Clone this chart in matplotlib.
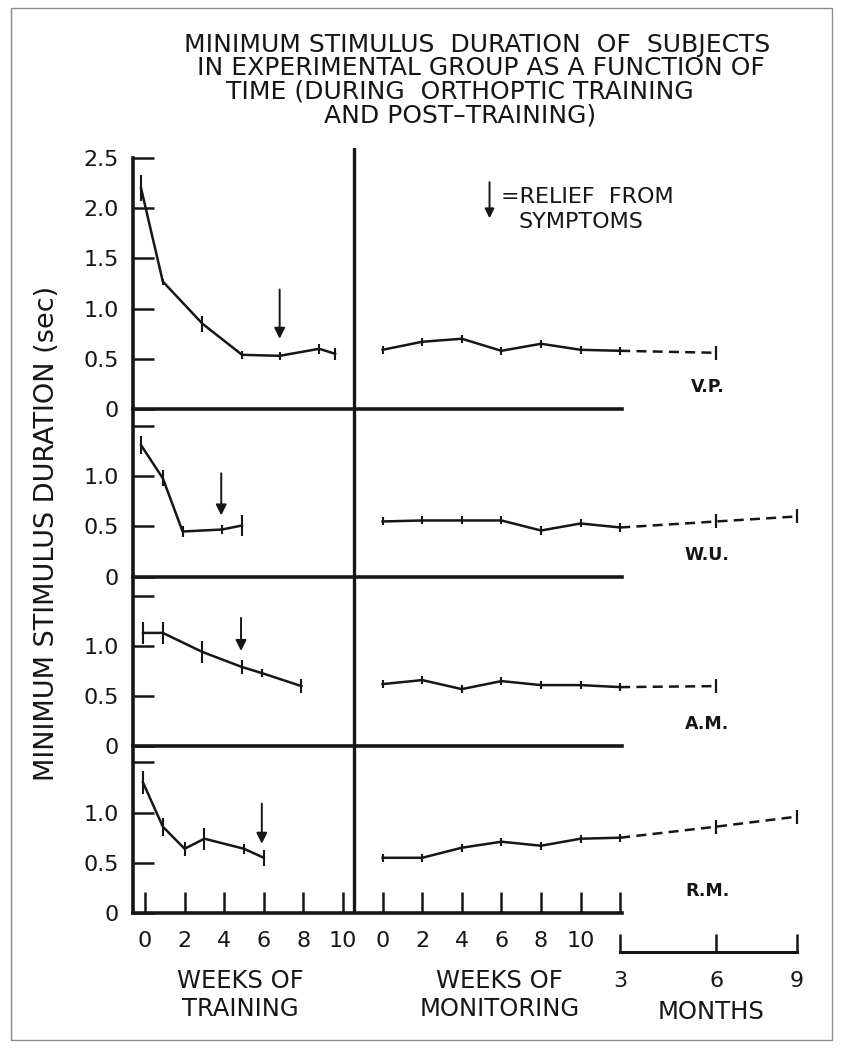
import numpy as np
import matplotlib
matplotlib.use('Agg')
import matplotlib.pyplot as plt
from matplotlib.patches import Rectangle

# ---- data ----
subjects = ['V.P.', 'W.U.', 'A.M.', 'R.M.']

train_weeks = [
    [-0.2, 0.9, 2.9, 4.9, 6.8, 8.8, 9.6],
    [-0.2, 0.9, 1.9, 3.9, 4.9],
    [-0.1, 0.9, 2.9, 4.9, 5.9, 7.9],
    [-0.1, 0.9, 2.0, 3.0, 5.0, 6.0],
]
train_vals = [
    [2.20, 1.27, 0.85, 0.54, 0.53, 0.60, 0.55],
    [1.31, 0.98, 0.45, 0.47, 0.51],
    [1.13, 1.13, 0.94, 0.79, 0.73, 0.60],
    [1.30, 0.86, 0.64, 0.74, 0.64, 0.55],
]
train_err = [
    [0.13, 0.03, 0.08, 0.04, 0.04, 0.05, 0.06],
    [0.09, 0.08, 0.05, 0.04, 0.10],
    [0.11, 0.11, 0.11, 0.07, 0.04, 0.07],
    [0.11, 0.09, 0.07, 0.11, 0.05, 0.08],
]

mon_weeks = [0, 2, 4, 6, 8, 10, 12]
mon_vals = [
    [0.59, 0.67, 0.70, 0.58, 0.65, 0.59, 0.58],
    [0.55, 0.56, 0.56, 0.56, 0.46, 0.53, 0.49],
    [0.62, 0.66, 0.57, 0.65, 0.61, 0.61, 0.59],
    [0.55, 0.55, 0.65, 0.71, 0.67, 0.74, 0.75],
]
mon_err = 0.04

follow_months = [[6], [6, 9], [6], [6, 9]]
follow_vals = [[0.56], [0.55, 0.60], [0.60], [0.86, 0.96]]
follow_err = 0.07

# relief from symptoms: week, arrow tail, arrow head
relief_week = [6.8, 3.85, 4.85, 5.9]
relief_tail = [1.19, 1.03, 1.28, 1.09]
relief_head = [0.70, 0.61, 0.95, 0.69]

ytops = [2.6, 1.67, 1.69, 1.66]

train_ticks = [0, 2, 4, 6, 8, 10]
mon_ticks = [0, 2, 4, 6, 8, 10, 12]
month_ticks = [3, 6, 9]

# ---- layout helpers (pixel geometry of the original page) ----
W, H = 843, 1050
def fx(px):
    return px / W
def fy(py):
    return 1 - py / H

PX_WEEK = 19.8
X_LEFT = (133 - 145) / PX_WEEK
X_RIGHT = (830 - 145) / PX_WEEK
DIVIDER = (354 - 145) / PX_WEEK
MON_OFF = 12.0
def month_pos(m):
    return np.interp(m, [3, 6, 9], [24.0, 28.85, 32.93])

INK = '#161616'

fig = plt.figure(figsize=(8.43, 10.5), dpi=100)
gs = fig.add_gridspec(4, 1, height_ratios=ytops, hspace=0,
                      left=fx(133), right=fx(830), top=fy(148), bottom=fy(913))
axes = [fig.add_subplot(gs[i]) for i in range(4)]

for i, ax in enumerate(axes):
    ax.set_xlim(X_LEFT, X_RIGHT)
    ax.set_ylim(0, ytops[i])
    ax.patch.set_visible(False)
    for s in ['top', 'right']:
        ax.spines[s].set_visible(False)
    for s in ['left', 'bottom']:
        ax.spines[s].set_linewidth(2.6)
        ax.spines[s].set_color(INK)
    ax.spines['bottom'].set_bounds(X_LEFT, MON_OFF + 12.1)
    if i == 0:
        ax.spines['left'].set_bounds(0, 2.5)
        ax.set_yticks([0, 0.5, 1.0, 1.5, 2.0, 2.5])
        ax.set_yticklabels(['0', '0.5', '1.0', '1.5', '2.0', '2.5'])
    else:
        ax.set_yticks([0, 0.5, 1.0, 1.5])
        ax.set_yticklabels(['0', '0.5', '1.0', ''])
    ax.tick_params(axis='y', direction='in', length=15, width=1.8, color=INK,
                   labelsize=16, pad=10, labelcolor=INK)
    ax.axvline(DIVIDER, color=INK, lw=2.4)

    # training
    ax.plot(train_weeks[i], train_vals[i], '-', color=INK, lw=1.8)
    ax.errorbar(train_weeks[i], train_vals[i], yerr=train_err[i], fmt='none',
                ecolor=INK, elinewidth=1.5, capsize=0)

    # monitoring
    mx = [MON_OFF + w for w in mon_weeks]
    ax.plot(mx, mon_vals[i], '-', color=INK, lw=1.8)
    ax.errorbar(mx, mon_vals[i], yerr=mon_err, fmt='none',
                ecolor=INK, elinewidth=1.5, capsize=0)

    # follow-up (dashed)
    fx_pos = [mx[-1]] + list(month_pos(follow_months[i]))
    fv = [mon_vals[i][-1]] + follow_vals[i]
    ax.plot(fx_pos, fv, color=INK, lw=1.8, linestyle=(0, (4, 2.5)))
    ax.errorbar(month_pos(follow_months[i]), follow_vals[i], yerr=follow_err,
                fmt='none', ecolor=INK, elinewidth=1.6, capsize=0)

    # relief arrow
    ax.annotate('', xy=(relief_week[i], relief_head[i]),
                xytext=(relief_week[i], relief_tail[i]),
                arrowprops=dict(arrowstyle='-|>', color=INK, lw=1.4,
                                mutation_scale=16, shrinkA=0, shrinkB=0))

    ax.text(28.4, 0.22, subjects[i], ha='center', va='center',
            fontsize=12.5, fontweight='bold', color=INK)

    if i < 3:
        ax.tick_params(axis='x', bottom=False, labelbottom=False)

# bottom x axis (weeks)
ax = axes[-1]
ax.set_xticks(train_ticks + [MON_OFF + w for w in mon_ticks])
ax.set_xticklabels([str(w) for w in train_ticks] +
                   [str(w) for w in mon_ticks[:-1]] + [''])
ax.tick_params(axis='x', direction='in', length=15, width=1.8, color=INK,
               labelsize=16, pad=13, labelcolor=INK)

# months bracket
axm = fig.add_axes([fx(133), fy(952), fx(830) - fx(133), 0.01])
axm.set_xlim(X_LEFT, X_RIGHT)
axm.patch.set_visible(False)
for s in ['top', 'right', 'left']:
    axm.spines[s].set_visible(False)
axm.spines['bottom'].set_linewidth(2.2)
axm.spines['bottom'].set_color(INK)
axm.spines['bottom'].set_bounds(month_pos(3), month_pos(9))
axm.set_yticks([])
axm.set_xticks(month_pos(month_ticks))
axm.set_xticklabels([str(m) for m in month_ticks])
axm.tick_params(axis='x', direction='in', length=13, width=1.8, color=INK,
                labelsize=16, pad=14, labelcolor=INK)

# axis titles under the bottom panel
xt = ax.get_xaxis_transform()
ax.annotate('WEEKS OF\nTRAINING', xy=(4.8, 0), xycoords=xt,
            xytext=(0, -59), textcoords='offset points', ha='center', va='center',
            fontsize=17.5, color=INK, linespacing=1.2)
ax.annotate('WEEKS OF\nMONITORING', xy=(17.9, 0), xycoords=xt,
            xytext=(0, -59), textcoords='offset points', ha='center', va='center',
            fontsize=17.5, color=INK, linespacing=1.2)
ax.annotate('MONTHS', xy=(28.6, 0), xycoords=xt,
            xytext=(0, -71.5), textcoords='offset points', ha='center', va='center',
            fontsize=17.5, color=INK)

# legend for the arrow
ax0 = axes[0]
ax0.annotate('', xy=(17.4, 1.90), xytext=(17.4, 2.26),
             arrowprops=dict(arrowstyle='-|>', color=INK, lw=1.4,
                             mutation_scale=14, shrinkA=0, shrinkB=0))
ax0.text(18.0, 2.11, '=RELIEF  FROM', ha='left', va='center', fontsize=16, color=INK)
ax0.text(18.85, 1.86, 'SYMPTOMS', ha='left', va='center', fontsize=16, color=INK)

# y label
fig.text(fx(47), fy(533), 'MINIMUM STIMULUS DURATION (sec)', rotation=90,
         ha='center', va='center', fontsize=19.5, color=INK)

# title
title_lines = ['MINIMUM STIMULUS  DURATION  OF  SUBJECTS',
               'IN EXPERIMENTAL GROUP AS A FUNCTION OF',
               'TIME (DURING  ORTHOPTIC TRAINING',
               'AND POST\u2013TRAINING)']
title_x = [477, 481, 460, 460]
title_y = [45, 68, 92, 115]
for t, x, y in zip(title_lines, title_x, title_y):
    fig.text(fx(x), fy(y), t, ha='center', va='center', fontsize=18, color=INK)

# page frame
fig.add_artist(Rectangle((fx(11), fy(1040)), fx(832) - fx(11), fy(8) - fy(1040),
                         transform=fig.transFigure, fill=False,
                         edgecolor='#8a8a8a', lw=1.0))

fig.savefig('out.png', dpi=100, facecolor='white')
